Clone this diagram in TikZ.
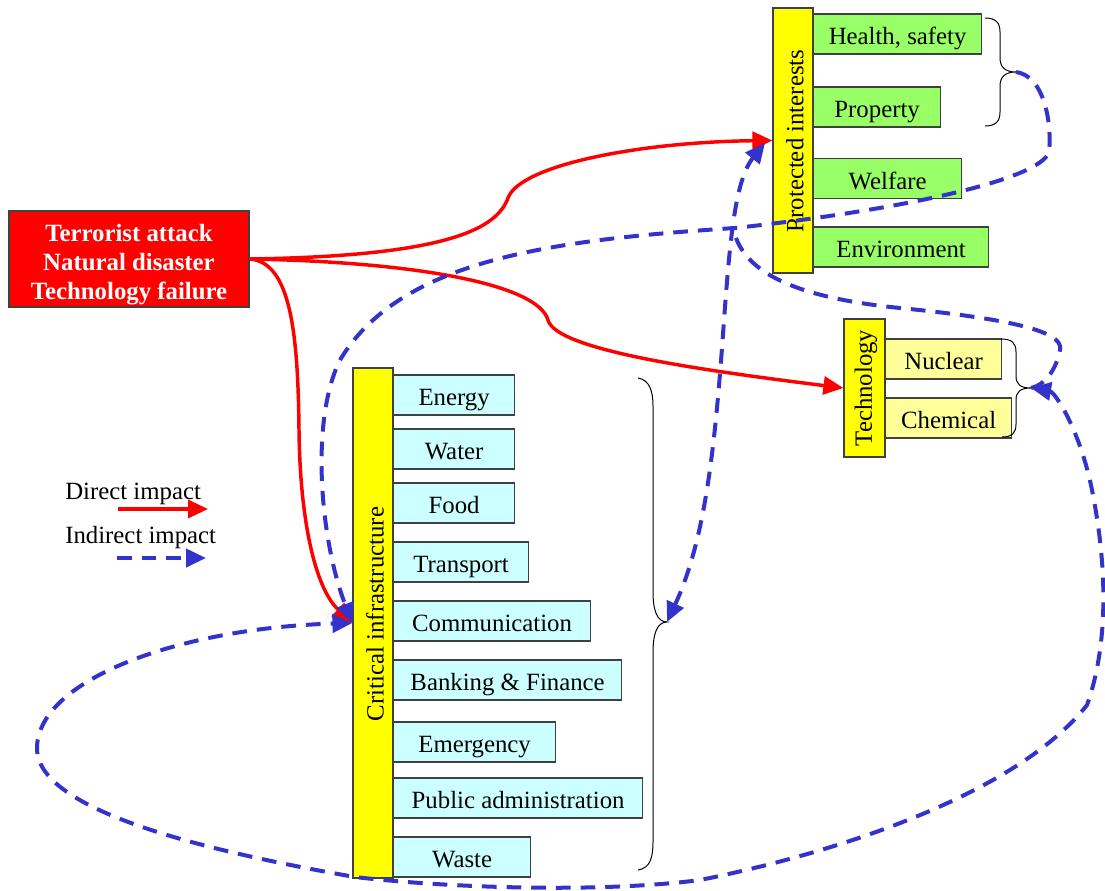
\documentclass[tikz,border=0pt]{standalone}
\usepackage{fontspec}
\setmainfont{Liberation Serif}
\usetikzlibrary{arrows.meta}

\definecolor{barYellow}{HTML}{FFFF00}
\definecolor{piGreen}{HTML}{99FF66}
\definecolor{ciCyan}{HTML}{CCFFFF}
\definecolor{techYellow}{HTML}{FFFF99}
\definecolor{impactRed}{HTML}{FF0000}
\definecolor{impactBlue}{HTML}{3333CC}
\definecolor{boxGray}{HTML}{404040}

\newcommand{\labelfont}{\fontsize{18.6}{22}\selectfont}

\begin{document}
\begin{tikzpicture}[x=0.75pt,y=-0.75pt,
  box/.style={draw=boxGray, line width=0.9pt, inner sep=0pt,
    minimum height=40*0.75pt, text height=19pt, text depth=3pt, font=\labelfont},
  bar/.style={draw=boxGray, line width=0.9pt, fill=barYellow, inner sep=0pt},
  barlabel/.style={rotate=90, inner sep=0pt, font=\labelfont},
  cibox/.style={box, fill=ciCyan, anchor=west},
  pibox/.style={box, fill=piGreen, anchor=west},
  techbox/.style={box, fill=techYellow, anchor=west},
  direct/.style={draw=impactRed, line width=2.6pt,
    -{Triangle[length=15pt,width=13.5pt]}},
  indirect/.style={draw=impactBlue, line width=3pt, dash pattern=on 11pt off 7.5pt},
  tipfwd/.style={-{Triangle[length=15pt,width=13.5pt]}},
  tipboth/.style={{Triangle[length=15pt,width=13.5pt]}-{Triangle[length=15pt,width=13.5pt]}},
  bracket/.style={draw=black, line width=0.75pt}
]
\useasboundingbox (0,0) rectangle (1105,890);

% ---- source of events ----
\node[draw=boxGray, line width=0.9pt, fill=impactRed,
  minimum width=240*0.75pt, minimum height=96*0.75pt, inner sep=0pt] (tnt) at (129,259) {};
\node[text=white, inner sep=0pt, align=center,
  font=\fontsize{18.6}{21.75}\selectfont\bfseries]
  (tntlabel) at (129,265) {Terrorist attack\\Natural disaster\\Technology failure};

% ---- protected interests ----
\node[bar, minimum width=40*0.75pt, minimum height=265*0.75pt] (pi) at (793,140.5) {};
\node[barlabel] (pilabel) at (795,141) {Protected interests};
\node[pibox, minimum width=168*0.75pt] (health) at (813,34) {Health, safety};
\node[pibox, minimum width=127*0.75pt] (property) at (813,107) {Property};
\node[pibox, minimum width=148*0.75pt] (welfare) at (813,178.5) {Welfare};
\node[pibox, minimum width=175*0.75pt] (environment) at (813,247) {Environment};

% ---- technology ----
\node[bar, minimum width=41*0.75pt, minimum height=138*0.75pt] (tech) at (864.5,388) {};
\node[barlabel] (techlabel) at (866,388) {Technology};
\node[techbox, minimum width=116*0.75pt] (nuclear) at (885,359) {Nuclear};
\node[techbox, minimum width=126*0.75pt] (chemical) at (885,418) {Chemical};

% ---- critical infrastructure ----
\node[bar, minimum width=40*0.75pt, minimum height=510*0.75pt] (ci) at (373,623) {};
\node[barlabel] (cilabel) at (375,614) {Critical infrastructure};
\node[cibox, minimum width=121*0.75pt] (energy) at (393,395) {Energy};
\node[cibox, minimum width=121*0.75pt] (water) at (393,449) {Water};
\node[cibox, minimum width=121*0.75pt] (food) at (393,503) {Food};
\node[cibox, minimum width=135*0.75pt] (transport) at (393,562) {Transport};
\node[cibox, minimum width=197*0.75pt] (communication) at (393,621) {Communication};
\node[cibox, minimum width=228*0.75pt] (banking) at (393,680) {Banking \& Finance};
\node[cibox, minimum width=162*0.75pt] (emergency) at (393,742) {Emergency};
\node[cibox, minimum width=249*0.75pt] (publicadmin) at (393,798) {Public administration};
\node[cibox, minimum width=137*0.75pt] (waste) at (393,857) {Waste};

% ---- braces grouping the boxes ----
\coordinate (pibrace) at (1016,72);
\coordinate (techbrace) at (1031,388);
\coordinate (cibrace) at (667,622);

\draw[bracket] (985,18) .. controls (996,18) and (1000,23) .. (1000,32) -- (1000,58)
  .. controls (1000,67) and (1005,72) .. (pibrace)
  .. controls (1005,72) and (1000,77) .. (1000,86) -- (1000,112)
  .. controls (1000,121) and (996,126) .. (985,126);

\draw[bracket] (1001,339) .. controls (1012,339) and (1016,343) .. (1016,352) -- (1016,376)
  .. controls (1016,384) and (1020,388) .. (techbrace)
  .. controls (1020,388) and (1016,392) .. (1016,400) -- (1016,424)
  .. controls (1016,433) and (1012,437) .. (1002,437);

\draw[bracket] (638,378) .. controls (650,380) and (653,392) .. (653,406) -- (653,592)
  .. controls (653,610) and (657,622) .. (cibrace)
  .. controls (657,622) and (653,634) .. (653,652) -- (653,842)
  .. controls (653,858) and (650,868) .. (638,870);

% ---- direct impacts ----
\draw[direct] (tnt.east) .. controls (450,256) and (497,228) .. (508,198)
  .. controls (520,165) and (640,142) .. (pi.west);
\draw[direct] (tnt.east) .. controls (420,262) and (538,285) .. (548,320)
  .. controls (556,350) and (700,370) .. (tech.west);
\draw[direct] (tnt.east) .. controls (290,262) and (298,330) .. (299,430)
  .. controls (300,520) and (315,588) .. (ci.west);

% ---- indirect impacts ----
\coordinate (piin) at (765,143);
\coordinate (fork) at (736,238);

% protected interests -> critical infrastructure
\draw[indirect, tipfwd] (pibrace) .. controls (1045,76) and (1052,125) .. (1049,152)
  .. controls (1040,180) and (900,210) .. (735,228)
  .. controls (550,240) and (400,260) .. (340,360)
  .. controls (310,420) and (320,540) .. (ci.west);

% critical infrastructure <-> protected interests
\draw[indirect, tipboth] (cibrace) .. controls (705,540) and (715,450) .. (724,320)
  .. controls (730,240) and (735,180) .. (piin);

% protected interests -- technology
\draw[indirect] (fork) .. controls (750,275) and (800,298) .. (900,308)
  .. controls (1000,318) and (1065,330) .. (1060,350)
  .. controls (1056,370) and (1045,385) .. (techbrace);

% technology <-> critical infrastructure, round the outside
\draw[indirect, tipboth] (techbrace) .. controls (1055,392) and (1080,430) .. (1092,490)
  .. controls (1106,560) and (1110,640) .. (1087,705)
  .. controls (1020,790) and (850,850) .. (700,880)
  .. controls (600,893) and (450,888) .. (355,877)
  .. controls (200,850) and (40,810) .. (37,750)
  .. controls (35,680) and (180,628) .. (ci.west);

% ---- legend ----
\node[anchor=base west, inner sep=0pt, font=\labelfont] (directlabel) at (65,499) {Direct impact};
\node[anchor=base west, inner sep=0pt, font=\labelfont] (indirectlabel) at (65,543) {Indirect impact};
\coordinate (d1) at (118,509);
\coordinate (d2) at (208,509);
\coordinate (i1) at (117,558);
\coordinate (i2) at (206,558);
\draw[direct] (d1) -- (d2);
\draw[indirect, tipfwd] (i1) -- (i2);

\end{tikzpicture}
\end{document}
